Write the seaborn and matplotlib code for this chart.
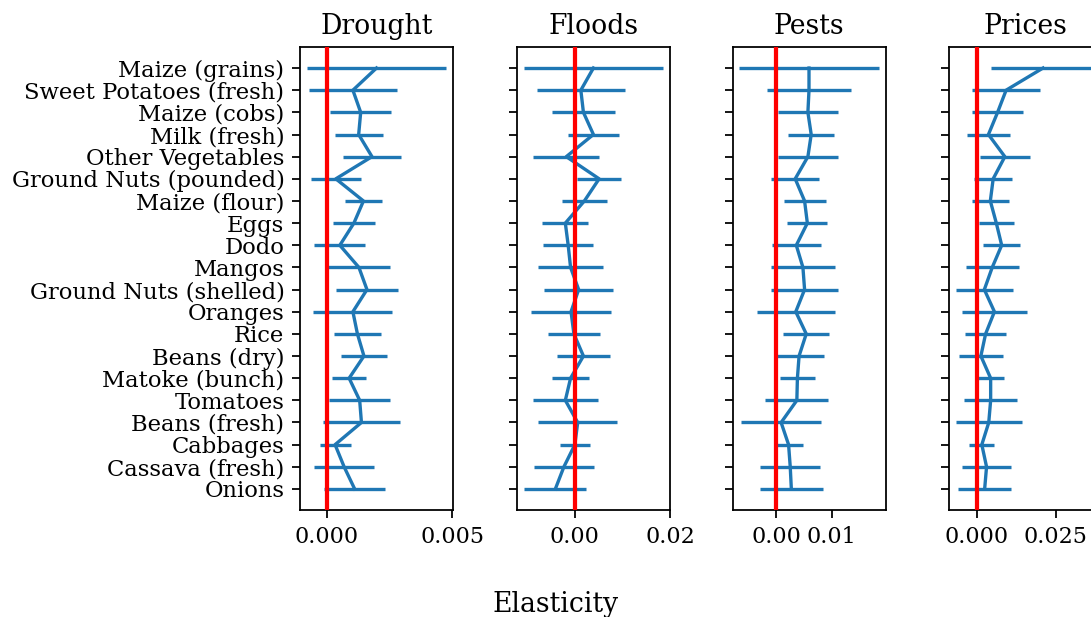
import numpy as np
import pandas as pd
import matplotlib
matplotlib.use("Agg")
import matplotlib.pyplot as plt
import seaborn as sns

plt.rcParams['font.family'] = ['DejaVu Serif']

foods = ["Maize (grains)", "Sweet Potatoes (fresh)", "Maize (cobs)", "Milk (fresh)",
         "Other Vegetables", "Ground Nuts (pounded)", "Maize (flour)", "Eggs", "Dodo",
         "Mangos", "Ground Nuts (shelled)", "Oranges", "Rice", "Beans (dry)",
         "Matoke (bunch)", "Tomatoes", "Beans (fresh)", "Cabbages", "Cassava (fresh)", "Onions"]

shocks = ["Drought", "Floods", "Pests", "Prices"]

drought_est = [0.00198, 0.00104, 0.00135, 0.00127, 0.00180, 0.00036, 0.00146, 0.00108, 0.00052, 0.00128,
               0.00160, 0.00104, 0.00122, 0.00148, 0.00089, 0.00131, 0.00138, 0.00033, 0.00069, 0.00111]
drought_err = [0.00277, 0.00174, 0.00121, 0.00096, 0.00116, 0.00099, 0.00075, 0.00084, 0.00101, 0.00123,
               0.00124, 0.00157, 0.00093, 0.00092, 0.00068, 0.00122, 0.00153, 0.00062, 0.00120, 0.00122]

floods_est = [0.0039, 0.00126, 0.0018, 0.0039, -0.0018, 0.0051, 0.0020, -0.0020, -0.0014, -0.0009,
              0.0008, -0.0008, -0.0002, 0.0018, -0.0009, -0.0020, 0.0006, 0.0000, -0.0023, -0.0041]
floods_err = [0.0146, 0.0092, 0.0067, 0.0053, 0.0069, 0.0047, 0.0048, 0.0048, 0.0053, 0.0069,
              0.0072, 0.0084, 0.0054, 0.0056, 0.0039, 0.0068, 0.0083, 0.0032, 0.0063, 0.0065]

pests_est = [0.0059, 0.0059, 0.0057, 0.0063, 0.0057, 0.0034, 0.0051, 0.0056, 0.0036, 0.0048,
             0.0051, 0.0035, 0.0054, 0.0041, 0.0038, 0.0037, 0.00085, 0.0022, 0.0025, 0.0027]
pests_err = [0.0126, 0.0076, 0.0055, 0.0042, 0.0055, 0.0043, 0.0038, 0.0036, 0.0044, 0.0058,
             0.0060, 0.0071, 0.0042, 0.0046, 0.0031, 0.0057, 0.0072, 0.0027, 0.0054, 0.0057]

prices_est = [0.0210, 0.0093, 0.0066, 0.0037, 0.0089, 0.0052, 0.0043, 0.0062, 0.0079, 0.0049,
              0.0024, 0.0056, 0.0028, 0.0013, 0.0044, 0.0044, 0.0038, 0.0016, 0.0031, 0.0025]
prices_err = [0.0165, 0.0109, 0.0082, 0.0067, 0.0079, 0.0061, 0.0058, 0.0055, 0.0059, 0.0084,
              0.0090, 0.0103, 0.0066, 0.0070, 0.0042, 0.0084, 0.0104, 0.0040, 0.0079, 0.0084]

xticks = {"Drought": [0.0, 0.005], "Floods": [0.0, 0.02], "Pests": [0.0, 0.01], "Prices": [0.0, 0.025]}

ests = [drought_est, floods_est, pests_est, prices_est]
errs = [drought_err, floods_err, pests_err, prices_err]
frames = []
for s, e, r in zip(shocks, ests, errs):
    frames.append(pd.DataFrame({"shock": s, "food": foods, "pos": np.arange(len(foods)),
                                "est": e, "err": r}))
df = pd.concat(frames, ignore_index=True)

dpi = 160
fig = plt.figure(figsize=(1091 / dpi, 617 / dpi), dpi=dpi)

W, H = 1091, 617
lefts = [300, 517, 732.5, 949]
aw = 153
top, bottom = 47, 510
blue = "#1f77b4"

first = None
for i, s in enumerate(shocks):
    rect = [lefts[i] / W, (H - bottom) / H, aw / W, (bottom - top) / H]
    ax = fig.add_axes(rect, sharey=first) if first is not None else fig.add_axes(rect)
    sub = df[df.shock == s]
    sns.lineplot(x=sub["est"].values, y=sub["pos"].values, orient="y", sort=False,
                 estimator=None, color=blue, lw=1.5, ax=ax)
    ax.errorbar(sub["est"], sub["pos"], xerr=sub["err"], fmt="none",
                ecolor=blue, elinewidth=1.5)
    ax.axvline(0, color="red", lw=1.9, zorder=5)
    ax.set_title(s, fontsize=12)
    ax.set_xticks(xticks[s])
    ax.set_xlabel("")
    ax.set_ylabel("")
    if first is None:
        first = ax
        ax.set_yticks(np.arange(len(foods)))
        ax.set_yticklabels(foods, fontsize=10.2)
        ax.invert_yaxis()
    else:
        ax.tick_params(labelleft=False)

fig.text(556 / W, 1 - 604 / H, "Elasticity", ha="center", va="center", fontsize=12)

fig.savefig("out.png", dpi=dpi)
